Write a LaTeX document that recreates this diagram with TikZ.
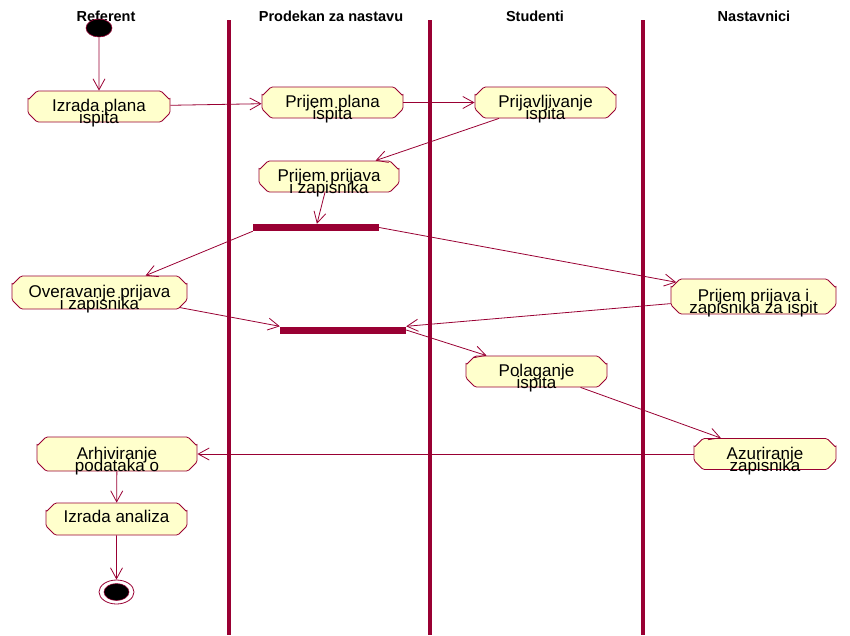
\documentclass[tikz,border=0pt]{standalone}
\usepackage{fontspec}
\setmainfont{Liberation Sans}
\usetikzlibrary{shapes.misc,shapes.geometric,arrows.meta}

\definecolor{umlred}{RGB}{153,0,51}
\definecolor{actfill}{RGB}{255,255,204}

% two-line activity label: tight 12pt baselines, taking no vertical room,
% first baseline a little below the shape centre
\newcommand\actlines[2]{\raisebox{-5pt}[0pt][0pt]{\vtop{\baselineskip=12pt\lineskiplimit=-100pt\lineskip=0pt
  \halign{\hfil##\hfil\cr #1\cr #2\cr}}}}
\newcommand\actline[1]{\raisebox{-3.7pt}[0pt][0pt]{#1}}

\begin{document}
\begin{tikzpicture}[x=1pt,y=-1pt,
  lane/.style={draw=umlred, line width=4.6pt},
  lanehead/.style={font=\fontsize{14.5}{14.5}\selectfont\bfseries, anchor=base, inner sep=0pt},
  act/.style={chamfered rectangle, chamfered rectangle xsep=7pt, chamfered rectangle ysep=9pt,
    draw=umlred, fill=actfill, line width=0.8pt, rounded corners=1.5pt,
    inner sep=0pt, minimum height=31pt, font=\fontsize{17}{12}\selectfont},
  syncbar/.style={fill=umlred, draw=none, minimum width=126pt, minimum height=7pt, inner sep=0pt},
  flow/.style={draw=umlred, line width=0.8pt, -{Straight Barb[length=11pt,width=12pt]}},
  startstate/.style={ellipse, fill=black, draw=umlred, line width=0.6pt, minimum width=26pt, minimum height=18pt, inner sep=0pt},
  endstate/.style={ellipse, fill=white, draw=umlred, line width=0.8pt, minimum width=35pt, minimum height=24pt, inner sep=0pt,
    path picture={\filldraw[fill=black, draw=umlred, line width=0.5pt] (path picture bounding box.center) ellipse (12.5pt and 8.5pt);}},
]
\useasboundingbox (0,0) rectangle (850,635);

% swimlane headers
\node[lanehead] (hRef) at (106,21) {Referent};
\node[lanehead] (hPro) at (331,21) {Prodekan za nastavu};
\node[lanehead] (hStu) at (535,21) {Studenti};
\node[lanehead] (hNas) at (754,21) {Nastavnici};

% swimlane separators
\draw[lane] (229,20) -- (229,635);
\draw[lane] (430,20) -- (430,635);
\draw[lane] (643,20) -- (643,635);

% activities
\node[startstate] (start) at (99,28) {};
\node[act, minimum width=142pt] (izp) at (99,106.5) {\actlines{Izrada plana}{ispita}};
\node[act, minimum width=141pt] (ppl) at (332.5,102.5) {\actlines{Prijem plana}{ispita}};
\node[act, minimum width=141pt] (prv) at (545.5,102.5) {\actlines{Prijavljivanje}{ispita}};
\node[act, minimum width=140pt] (ppz) at (329,176.5) {\actlines{Prijem prijava}{i zapisnika}};
\node[syncbar] (fork) at (316,227.5) {};
\node[act, minimum width=175pt, minimum height=33pt] (ovr) at (99.5,292.5) {\actlines{Overavanje prijava}{i zapisnika}};
\node[act, minimum width=165pt, minimum height=35pt] (pzi) at (753.5,296.5) {\actlines{Prijem prijava i}{zapisnika za ispit}};
\node[syncbar] (join) at (343,330) {};
\node[act, minimum width=141pt] (pol) at (536.5,371.5) {\actlines{Polaganje}{ispita}};
\node[act, minimum width=142pt] (azr) at (765,454) {\actlines{Azuriranje}{zapisnika}};
\node[act, minimum width=160pt, minimum height=34pt] (arh) at (117,454) {\actlines{Arhiviranje}{podataka o}};
\node[act, minimum width=141pt, minimum height=32pt] (ian) at (116.5,519) {\actline{Izrada analiza}};
\node[endstate] (stop) at (116.5,592) {};

% transitions
\draw[flow] (start) -- (izp);
\draw[flow] (izp) -- (ppl);
\draw[flow] (ppl) -- (prv);
\draw[flow] (prv) -- (ppz);
\draw[flow] (ppz) -- (fork);
\draw[flow] (fork.south west) -- ([xshift=46pt]ovr.north);
\draw[flow] (fork.east) -- (pzi);
\draw[flow] (ovr) -- (join.north west);
\draw[flow] (pzi) -- (join.north east);
\draw[flow] (join.east) -- (pol);
\draw[flow] (pol) -- (azr);
\draw[flow] (azr) -- (arh);
\draw[flow] (arh) -- (ian);
\draw[flow] (ian) -- (stop);
\end{tikzpicture}
\end{document}
